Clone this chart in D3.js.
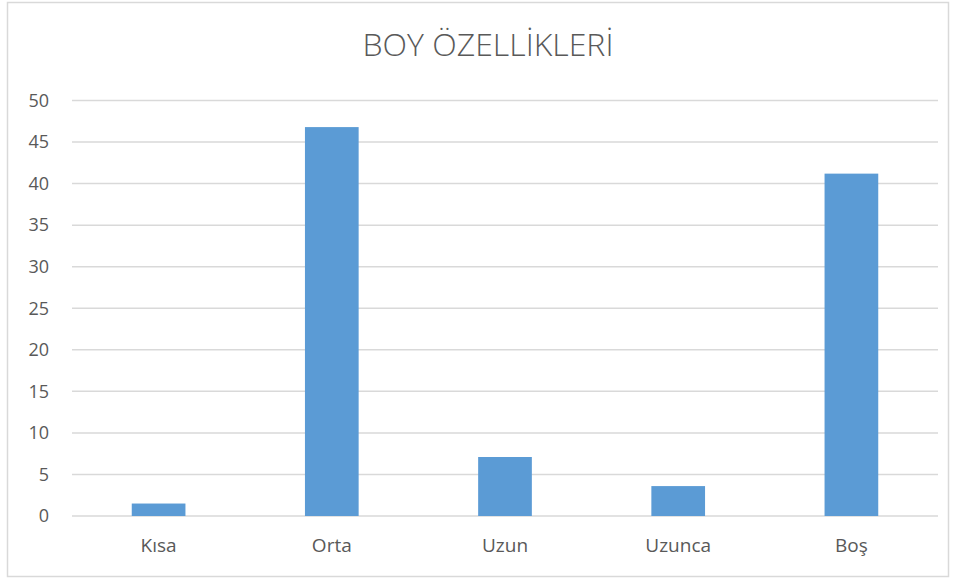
<!DOCTYPE html>
<html>
<head>
<meta charset="utf-8">
<script src="https://cdn.jsdelivr.net/npm/d3@7"></script>
<style>
  body { margin: 0; background: #fff; }
  svg { display: block; font-family: "Open Sans", "Noto Sans", sans-serif; }
</style>
</head>
<body>
<svg id="chart" width="956" height="580"></svg>
<script>
const categories = ["Kısa", "Orta", "Uzun", "Uzunca", "Boş"];
const values = [1.5, 46.8, 7.1, 3.6, 41.2];
const yTicks = [0, 5, 10, 15, 20, 25, 30, 35, 40, 45, 50];
const title = "BOY ÖZELLİKLERİ";

const svg = d3.select("#chart");
const width = +svg.attr("width");
const height = +svg.attr("height");
const margin = {top: 100.5, right: 18, bottom: 64, left: 72};

// outer frame
svg.append("rect")
   .attr("x", 7.5).attr("y", 2.5)
   .attr("width", 941).attr("height", 574)
   .attr("fill", "#fff")
   .attr("stroke", "#d9d9d9")
   .attr("stroke-width", 1.5);

svg.append("text")
   .attr("x", 488).attr("y", 56)
   .attr("text-anchor", "middle")
   .attr("font-size", 32)
   .attr("font-weight", 300)
   .attr("fill", "#595959")
   .text(title);

const x = d3.scaleBand()
            .domain(categories)
            .range([margin.left, width - margin.right])
            .paddingInner(0.69)
            .paddingOuter(0.345);

const y = d3.scaleLinear()
            .domain([0, 50])
            .range([height - margin.bottom, margin.top]);

// gridlines
svg.append("g")
   .selectAll("line")
   .data(yTicks)
   .enter()
   .append("line")
   .attr("x1", margin.left)
   .attr("x2", width - margin.right)
   .attr("y1", d => y(d))
   .attr("y2", d => y(d))
   .attr("stroke", "#d9d9d9")
   .attr("stroke-width", 1.5);

// y axis labels
const yAxis = svg.append("g")
   .attr("transform", `translate(${margin.left - 23},0)`)
   .call(d3.axisLeft(y).tickValues(yTicks).tickSize(0).tickPadding(0));
yAxis.select(".domain").remove();
yAxis.selectAll("text")
     .attr("font-size", 18)
     .attr("font-family", "Open Sans, sans-serif")
     .attr("fill", "#595959");

// bars
svg.append("g")
   .selectAll("rect")
   .data(values)
   .enter()
   .append("rect")
   .attr("x", (d, i) => x(categories[i]))
   .attr("width", x.bandwidth())
   .attr("y", d => y(d))
   .attr("height", d => y(0) - y(d))
   .attr("fill", "#5b9bd5");

// x axis labels
const xAxis = svg.append("g")
   .attr("transform", `translate(0,${height - margin.bottom})`)
   .call(d3.axisBottom(x).tickSize(0).tickPadding(23));
xAxis.select(".domain").remove();
xAxis.selectAll("text")
     .attr("font-size", 19)
     .attr("font-family", "Open Sans, sans-serif")
     .attr("fill", "#595959");
</script>
</body>
</html>
